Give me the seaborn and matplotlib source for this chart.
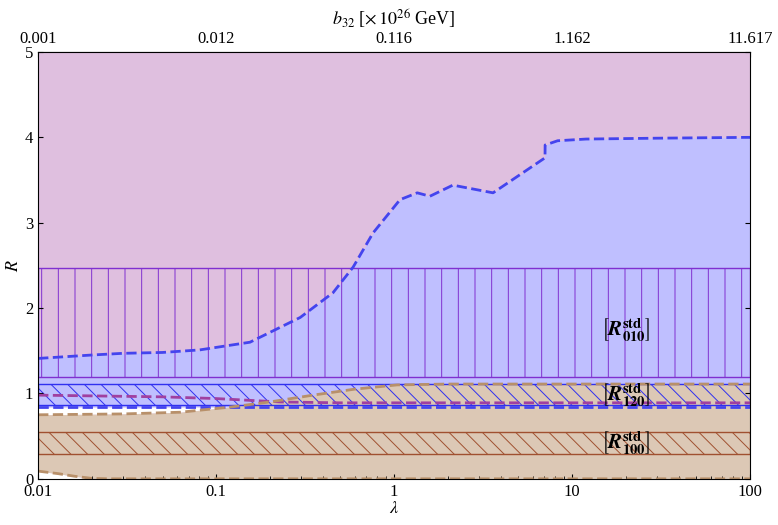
import numpy as np
import pandas as pd
import matplotlib
matplotlib.use("Agg")
import matplotlib.pyplot as plt
import seaborn as sns

plt.rcParams['font.family'] = 'serif'
plt.rcParams['font.serif'] = ['Liberation Serif', 'DejaVu Serif']
plt.rcParams['mathtext.fontset'] = 'stix'
plt.rcParams['hatch.linewidth'] = 0.7

# blue dashed upper boundary (lambda, R)
blue_lam = [0.01, 0.02, 0.03, 0.05, 0.081, 0.155, 0.297, 0.454, 0.589, 0.762, 1.08, 1.35, 1.59, 2.14, 3.6, 7.05, 7.06, 8.3, 12, 30, 100]
blue_R = [1.41, 1.45, 1.47, 1.48, 1.51, 1.60, 1.89, 2.18, 2.48, 2.88, 3.27, 3.35, 3.31, 3.44, 3.35, 3.76, 3.91, 3.96, 3.98, 3.99, 4.0]
# blue dashed lower boundary
blue_low = 0.84
# tan upper boundary
tan_lam = [0.01, 0.03, 0.063, 0.12, 0.2, 0.35, 0.6, 1.04, 2.0, 10, 100]
tan_up = [0.75, 0.76, 0.78, 0.84, 0.9, 0.98, 1.05, 1.10, 1.11, 1.11, 1.11]
# tan lower boundary
tanlo_lam = [0.01, 0.013, 0.016, 0.02, 0.025, 100]
tanlo_R = [0.09, 0.06, 0.03, 0.005, 0.0, 0.0]
# purple dashed line
pur_lam = [0.01, 0.05, 0.1, 0.23, 0.5, 1, 100]
pur_R = [0.98, 0.96, 0.94, 0.90, 0.89, 0.89, 0.89]
# hatched std bands (low, high)
band010 = (1.19, 2.47)
band120 = (0.87, 1.11)
band100 = (0.29, 0.55)

top_ticks = [0.01, 0.1, 1, 10, 100]
top_labels = ['0.001', '0.012', '0.116', '1.162', '11.617']

fig, ax = plt.subplots(figsize=(7.78, 5.25), dpi=100)
ax.set_xscale('log')
ax.set_xlim(0.01, 100)
ax.set_ylim(0, 5)

pink = '#dfbfdf'
bluef = '#bfbfff'
tan = '#dcc8b5'

x = np.logspace(-2, 2, 500)
lx = np.log10(x)
b_up = np.interp(lx, np.log10(blue_lam), blue_R)
t_up = np.interp(lx, np.log10(tan_lam), tan_up)
t_lo = np.interp(lx, np.log10(tanlo_lam), tanlo_R)

ax.fill_between(x, 0, 5, color=pink, lw=0)
ax.fill_between(x, blue_low, b_up, color=bluef, lw=0)
ax.fill_between(x, t_up, blue_low, color='white', lw=0, where=t_up < blue_low)
ax.fill_between(x, 0, t_lo, color='white', lw=0)
ax.fill_between(x, t_lo, t_up, color=tan, lw=0)

ax.fill_between([0.01, 100], *band010, facecolor='none', edgecolor='#8030d0', hatch='|', lw=1)
ax.fill_between([0.01, 100], *band120, facecolor='none', edgecolor='#3030f0', hatch='\\\\', lw=1)
ax.fill_between([0.01, 100], *band100, facecolor='none', edgecolor='#a05030', hatch='\\\\', lw=1)

df_blue = pd.DataFrame({'lam': blue_lam, 'R': blue_R})
sns.lineplot(data=df_blue, x='lam', y='R', ax=ax, color='#4444ee', lw=2, ls='--')
ax.axhline(blue_low, color='#4444ee', lw=2, ls='--')
sns.lineplot(x=pur_lam, y=pur_R, ax=ax, color='#a040a0', lw=2, ls='--')
sns.lineplot(x=tan_lam, y=tan_up, ax=ax, color='#b8906a', lw=2, ls='--')
sns.lineplot(x=tanlo_lam, y=tanlo_R, ax=ax, color='#b8906a', lw=2, ls='--')

for yv, lab in [(1.75, r'$\left[\boldsymbol{R}^{\mathbf{std}}_{\mathbf{010}}\right]$'),
                (0.99, r'$\left[\boldsymbol{R}^{\mathbf{std}}_{\mathbf{120}}\right]$'),
                (0.43, r'$\left[\boldsymbol{R}^{\mathbf{std}}_{\mathbf{100}}\right]$')]:
    ax.text(20, yv, lab, fontsize=15, ha='center', va='center')

ax.set_xticks([0.01, 0.1, 1, 10, 100])
ax.set_xticklabels(['0.01', '0.1', '1', '10', '100'])
ax.set_xlabel(r'$\lambda$', fontsize=13, labelpad=0)
ax.set_ylabel(r'$R$', fontsize=13, labelpad=2)
ax.tick_params(labelsize=12, direction='in', which='both', top=False, right=True)

sec = ax.secondary_xaxis('top')
sec.set_xticks(top_ticks)
sec.set_xticklabels(top_labels)
sec.tick_params(labelsize=12, direction='in', which='both')
sec.set_xlabel(r'$b_{32}$ [$\times\,10^{26}$ GeV]', fontsize=13, labelpad=4)

fig.subplots_adjust(left=0.049, right=0.964, top=0.901, bottom=0.088)
fig.savefig('out.png', dpi=100)
